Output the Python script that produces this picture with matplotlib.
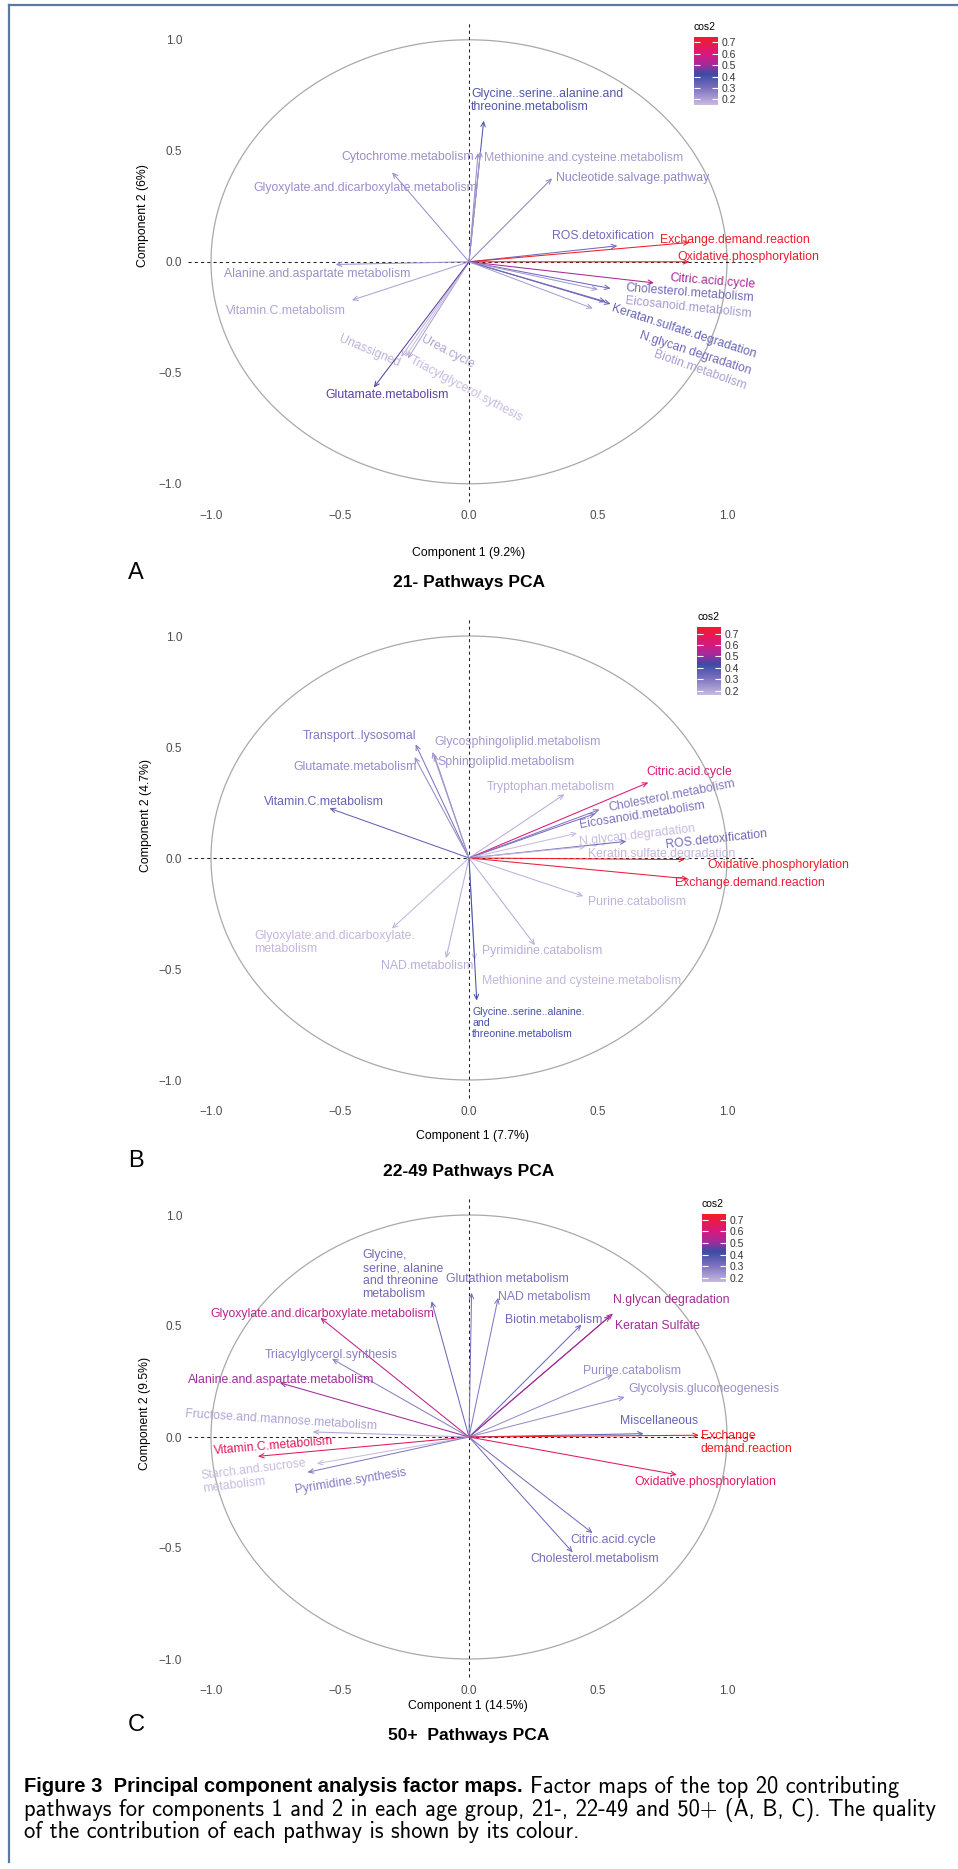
import matplotlib
matplotlib.use("Agg")
import matplotlib.pyplot as plt
import numpy as np
from matplotlib.colors import LinearSegmentedColormap, Normalize
from matplotlib.cm import ScalarMappable

plt.rcParams['font.family'] = ['Liberation Sans', 'DejaVu Sans']

# ---- panel A : 21- ----
names_a = ["Glycine..serine..alanine.and\nthreonine.metabolism", "Methionine.and.cysteine.metabolism",
           "Cytochrome.metabolism", "Glyoxylate.and.dicarboxylate.metabolism", "Nucleotide.salvage.pathway",
           "ROS.detoxification", "Exchange.demand.reaction", "Oxidative.phosphorylation",
           "Alanine.and.aspartate metabolism", "Citric.acid.cycle", "Cholesterol.metabolism",
           "Eicosanoid.metabolism", "Keratan.sulfate.degradation", "N.glycan degradation", "Biotin.metabolism",
           "Vitamin.C.metabolism", "Unassigned", "Urea.cycle", "Triacylglycerol.sythesis", "Glutamate.metabolism"]
dim1_a = [0.057, 0.045, 0.035, -0.298, 0.322, 0.575, 0.855, 0.855, -0.517, 0.717,
          0.549, 0.50, 0.549, 0.53, 0.48, -0.454, -0.263, -0.237, -0.247, -0.369]
dim2_a = [0.636, 0.50, 0.49, 0.403, 0.376, 0.072, 0.087, 0.0, -0.012, -0.095,
          -0.120, -0.125, -0.19, -0.18, -0.21, -0.173, -0.428, -0.435, -0.428, -0.566]
cos2_a = [0.38, 0.22, 0.24, 0.24, 0.26, 0.32, 0.75, 0.73, 0.24, 0.52,
          0.32, 0.22, 0.34, 0.32, 0.21, 0.20, 0.17, 0.20, 0.15, 0.45]

# ---- panel B : 22-49 ----
names_b = ["Transport..lysosomal", "Glutamate.metabolism", "Glycosphingoliplid.metabolism",
           "Sphingoliplid.metabolism", "Citric.acid.cycle", "Tryptophan.metabolism", "Cholesterol.metabolism",
           "Eicosanoid.metabolism", "Vitamin.C.metabolism", "N.glycan.degradation", "ROS.detoxification",
           "Keratin.sulfate.degradation", "Oxidative.phosphorylation", "Exchange.demand.reaction",
           "Purine.catabolism", "Glyoxylate.and.dicarboxylate.\nmetabolism", "NAD.metabolism",
           "Pyrimidine.catabolism", "Methionine and cysteine.metabolism",
           "Glycine..serine..alanine.\nand\nthreonine.metabolism"]
dim1_b = [-0.207, -0.211, -0.142, -0.135, 0.695, 0.370, 0.506, 0.49, -0.541, 0.419,
          0.610, 0.453, 0.837, 0.850, 0.443, -0.299, -0.089, 0.256, 0.022, 0.030]
dim2_b = [0.512, 0.455, 0.478, 0.465, 0.340, 0.287, 0.218, 0.20, 0.224, 0.112,
          0.075, 0.052, -0.007, -0.094, -0.172, -0.318, -0.451, -0.393, -0.46, -0.642]
cos2_b = [0.30, 0.26, 0.23, 0.24, 0.62, 0.19, 0.30, 0.31, 0.35, 0.16,
          0.33, 0.17, 0.76, 0.72, 0.18, 0.17, 0.19, 0.19, 0.17, 0.41]

# ---- panel C : 50+ ----
names_c = ["Glycine,\nserine, alanine\nand threonine\nmetabolism", "Glutathion metabolism", "NAD metabolism",
           "N.glycan degradation", "Keratan Sulfate", "Biotin.metabolism",
           "Glyoxylate.and.dicarboxylate.metabolism", "Triacylglycerol.synthesis",
           "Alanine.and.aspartate.metabolism", "Purine.catabolism", "Glycolysis.gluconeogenesis",
           "Miscellaneous", "Exchange\ndemand.reaction", "Oxidative.phosphorylation",
           "Fructose.and.mannose.metabolism", "Vitamin.C.metabolism", "Starch.and.sucrose\nmetabolism",
           "Pyrimidine.synthesis", "Citric.acid.cycle", "Cholesterol.metabolism"]
dim1_c = [-0.145, 0.010, 0.113, 0.558, 0.549, 0.436, -0.576, -0.531, -0.733, 0.558,
          0.604, 0.677, 0.891, 0.806, -0.606, -0.818, -0.59, -0.626, 0.479, 0.402]
dim2_c = [0.612, 0.650, 0.627, 0.556, 0.547, 0.507, 0.537, 0.352, 0.244, 0.281,
          0.180, 0.015, 0.008, -0.170, 0.023, -0.087, -0.120, -0.159, -0.433, -0.520]
cos2_c = [0.33, 0.31, 0.29, 0.52, 0.51, 0.33, 0.55, 0.28, 0.51, 0.25,
          0.25, 0.35, 0.75, 0.64, 0.21, 0.66, 0.16, 0.29, 0.31, 0.32]

ticks = [-1.0, -0.5, 0.0, 0.5, 1.0]
tick_labels = ["\u22121.0", "\u22120.5", "0.0", "0.5", "1.0"]
cb_ticks = [0.2, 0.3, 0.4, 0.5, 0.6, 0.7]

# label placement (x, y, angle) in data units, one per variable
lab_a = [(0.304, 0.728, 0), (0.444, 0.469, 0), (-0.239, 0.474, 0), (-0.403, 0.334, 0), (0.634, 0.376, 0),
         (0.519, 0.117, 0), (1.029, 0.098, 0), (1.082, 0.023, 0), (-0.590, -0.056, 0), (0.946, -0.087, -4.5),
         (0.857, -0.143, -4.5), (0.852, -0.206, -6), (0.831, -0.315, -18), (0.877, -0.413, -18),
         (0.894, -0.488, -19.5), (-0.709, -0.221, 0), (-0.385, -0.405, -23), (-0.083, -0.405, -27.6),
         (-0.01, -0.575, -28), (-0.318, -0.598, 0)]
lab_b = [(-0.423, 0.549, 0), (-0.443, 0.412, 0), (0.187, 0.522, 0), (0.144, 0.433, 0), (0.854, 0.388, 0),
         (0.317, 0.318, 0), (0.787, 0.281, 11), (0.671, 0.191, 9), (-0.561, 0.251, 0), (0.65, 0.104, 6.6),
         (0.957, 0.082, 6.3), (0.748, 0.019, 0), (1.20, -0.03, 0), (1.089, -0.112, 0), (0.653, -0.197, 0),
         (-0.52, -0.382, 0), (-0.163, -0.485, 0), (0.282, -0.418, 0), (0.437, -0.555, 0), (0.23, -0.742, 0)]
lab_c = [(-0.257, 0.731, 0), (0.149, 0.71, 0), (0.293, 0.63, 0), (0.784, 0.615, 0), (0.729, 0.499, 0),
         (0.329, 0.529, 0), (-0.568, 0.552, 0), (-0.532, 0.368, 0), (-0.729, 0.259, 0), (0.632, 0.299, 0),
         (0.909, 0.218, 0), (0.735, 0.071, 0), (1.077, -0.023, 0), (0.917, -0.201, 0), (-0.729, 0.075, -3.7),
         (-0.758, -0.042, 4.8), (-0.832, -0.175, 7), (-0.457, -0.2, 9), (0.56, -0.466, 0), (0.489, -0.55, 0)]

cmap = LinearSegmentedColormap.from_list("cos2", [(0.0, "#c9bbdf"), (0.25, "#7b70be"), (0.45, "#3b4ba4"),
                                                 (0.6, "#a42b99"), (0.75, "#d8187d"), (1.0, "#f31c26")])

W, H = 958, 1869
fig = plt.figure(figsize=(W / 100, H / 100), dpi=100)

OX, UX, UY = 469, 258, 222
XLIM = (-1.09, 1.35)
YLIM = (-1.1, 1.1)


def box(left, top, w, h):
    return [left / W, 1 - (top + h) / H, w / W, h / H]


def panel(oy, names, d1, d2, cos2, labs, xt, yt, title, letter, xt_pos, yt_pos, title_y, cb_pos, small=()):
    ax = fig.add_axes(box(OX + XLIM[0] * UX, oy - YLIM[1] * UY,
                          (XLIM[1] - XLIM[0]) * UX, (YLIM[1] - YLIM[0]) * UY))
    ax.set_xlim(*XLIM)
    ax.set_ylim(*YLIM)
    norm = Normalize(min(cos2), max(cos2))
    t = np.linspace(0, 2 * np.pi, 400)
    ax.plot(np.cos(t), np.sin(t), color="#a9a9a9", lw=0.9)
    ax.plot([XLIM[0], 1.1], [0, 0], color="#222222", lw=0.75, ls=(0, (3, 3)))
    ax.plot([0, 0], [-1.08, 1.08], color="#222222", lw=0.75, ls=(0, (3, 3)))
    for i, name in enumerate(names):
        c = cmap(norm(cos2[i]))
        ax.annotate("", xy=(d1[i], d2[i]), xytext=(0, 0),
                    arrowprops=dict(arrowstyle="->,head_length=0.35,head_width=0.16",
                                    color=c, lw=0.75, shrinkA=0, shrinkB=0))
        lx, ly, rot = labs[i]
        ax.text(lx, ly, name, color=c, fontsize=7.6 if i in small else 8.8, ha="center", va="center",
                rotation=rot, rotation_mode="anchor", multialignment="left", linespacing=1.12)
    ax.set_xticks(ticks)
    ax.set_xticklabels(tick_labels)
    ax.set_yticks(ticks)
    ax.set_yticklabels(tick_labels)
    ax.tick_params(length=0, labelsize=8.5, labelcolor="#4d4d4d")
    ax.tick_params(axis="x", pad=3)
    ax.tick_params(axis="y", pad=4)
    for s in ax.spines.values():
        s.set_visible(False)

    fig.text(xt_pos[0] / W, 1 - xt_pos[1] / H, xt, fontsize=8.8, ha="center", va="center")
    fig.text(yt_pos[0] / W, 1 - yt_pos[1] / H, yt, fontsize=8.8, ha="center", va="center", rotation=90)
    fig.text(469 / W, 1 - title_y / H, title, fontsize=12.5, fontweight="bold", ha="center", va="center")
    fig.text(136 / W, 1 - (title_y - 10) / H, letter, fontsize=17, ha="center", va="center")

    # colour legend
    bx, by = cb_pos
    cax = fig.add_axes(box(bx, by, 23.5, 68.5))
    cb = fig.colorbar(ScalarMappable(norm=norm, cmap=cmap), cax=cax, ticks=cb_ticks)
    cb.outline.set_visible(False)
    cb.set_ticklabels(["%.1f" % v for v in cb_ticks])
    cax.tick_params(axis="y", which="major", direction="in", length=4, width=0.8, colors="white",
                    labelcolor="#333333", labelsize=7.5, pad=3, left=True, right=True,
                    labelleft=False, labelright=True)
    fig.text(bx / W, 1 - (by - 10) / H, "cos2", fontsize=7.5, ha="left", va="center")


panel(261.8, names_a, dim1_a, dim2_a, cos2_a, lab_a, "Component 1 (9.2%)", "Component 2 (6%)",
      "21- Pathways PCA", "A", (469, 553), (143, 216), 583, (694, 36.7))
panel(858, names_b, dim1_b, dim2_b, cos2_b, lab_b, "Component 1 (7.7%)", "Component 2 (4.7%)",
      "22-49 Pathways PCA", "B", (473, 1136), (146, 815), 1171, (697, 626.7), small=(19,))
panel(1437, names_c, dim1_c, dim2_c, cos2_c, lab_c, "Component 1 (14.5%)", "Component 2 (9.5%)",
      "50+  Pathways PCA", "C", (468, 1706), (145, 1413), 1735, (702, 1214))

# frame lines of the journal figure box
fig.add_artist(plt.Line2D([9 / W, 1], [1 - 5.5 / H, 1 - 5.5 / H], color="#5b7aa3", lw=1.6))
fig.add_artist(plt.Line2D([9 / W, 9 / W], [1 - 5.5 / H, 1 - 1862 / H], color="#5b7aa3", lw=1.6))

# caption
cap_font = ["cmss10", "DejaVu Sans"]
r = fig.canvas.get_renderer()
probe = fig.text(0, 0, "pathways for components 1 and 2 in each age group, 21-, 22-49 and 50+ (A, B, C). The quality",
                 fontsize=10, family=cap_font)
cap_size = 10 * 915 / probe.get_window_extent(r).width
probe.remove()
probe = fig.text(0, 0, "Figure 3  Principal component analysis factor maps.", fontsize=10,
                 family="Liberation Sans", fontweight="bold")
bold_size = 10 * 500 / probe.get_window_extent(r).width
probe.remove()

x0 = 24 / W
bold = fig.text(x0, 1 - 1784 / H, "Figure 3  Principal component analysis factor maps.", fontsize=bold_size,
                family="Liberation Sans", fontweight="bold", va="center_baseline")
bb = bold.get_window_extent(r)
fig.text(bb.x1 / W + 7 / W, 1 - 1784 / H, "Factor maps of the top 20 contributing", fontsize=cap_size,
         family=cap_font, va="center_baseline")
fig.text(x0, 1 - 1806.5 / H,
         "pathways for components 1 and 2 in each age group, 21-, 22-49 and 50+ (A, B, C). The quality",
         fontsize=cap_size, family=cap_font, va="center_baseline")
fig.text(x0, 1 - 1829 / H, "of the contribution of each pathway is shown by its colour.", fontsize=cap_size,
         family=cap_font, va="center_baseline")

fig.savefig("out.png", dpi=100)
